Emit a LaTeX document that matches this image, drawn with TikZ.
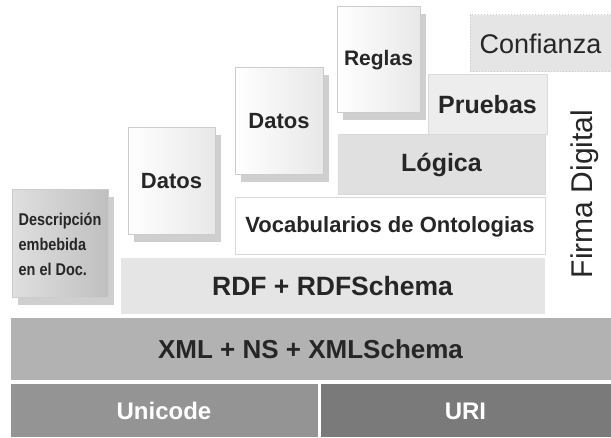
\documentclass[tikz,border=0pt]{standalone}
\usepackage{fontspec}
\setmainfont{Liberation Sans}
\newfontfamily\estrecha[FakeStretch=0.85]{Liberation Sans}
\usetikzlibrary{shadows}

\definecolor{gUnicode}{gray}{0.58}
\definecolor{gURI}{gray}{0.48}
\definecolor{gXML}{gray}{0.70}
\definecolor{gRDF}{gray}{0.90}
\definecolor{gLogica}{gray}{0.88}
\definecolor{gPruebas}{gray}{0.93}
\definecolor{gConfianza}{gray}{0.90}

\tikzset{
  capa/.style={anchor=north west, inner sep=0pt, outer sep=0pt, draw=white, line width=1pt,
    text=black!85, font=\bfseries\fontsize{22}{26}\selectfont},
  hoja/.style={capa, draw=gray!40, left color=white, right color=gray!18,
    drop shadow={shadow xshift=6pt, shadow yshift=-7pt, fill=gray!75}},
}

\begin{document}
\begin{tikzpicture}[x=1pt, y=-1pt]
\useasboundingbox (0,0) rectangle (611,438);
% capas de la pila, de abajo hacia arriba
\node [capa, fill=gUnicode, text=white, minimum width=308, minimum height=54, font=\bfseries\fontsize{24}{26}\selectfont] (unicode) at (10,384) {Unicode};
\node [capa, fill=gURI, text=white, minimum width=291, minimum height=54, font=\bfseries\fontsize{24}{26}\selectfont] (uri) at (320,384) {URI};
\node [capa, fill=gXML, minimum width=601, minimum height=63, font=\bfseries\fontsize{26}{28}\selectfont] (xml) at (10,318) {XML + NS + XMLSchema};
\node [capa, fill=gRDF, minimum width=425, minimum height=57, font=\bfseries\fontsize{26.5}{28}\selectfont] (rdf) at (120,258) {RDF + RDFSchema};
\node [capa, fill=white, draw=gray!30, minimum width=310, minimum height=57] (vocab) at (235,198) {Vocabularios de Ontologias};
\node [capa, fill=gLogica, draw=gray!30, minimum width=207, minimum height=60, font=\bfseries\fontsize{25}{28}\selectfont] (logica) at (338,135) {Lógica};
\node [capa, fill=gPruebas, draw=gray!30, minimum width=119, minimum height=60, font=\bfseries\fontsize{25}{28}\selectfont] (pruebas) at (428,75) {Pruebas};
\node [capa, fill=gConfianza, draw=gray!40, dotted, minimum width=141, minimum height=57, font=\fontsize{27}{30}\selectfont] (confianza) at (470,15) {Confianza};
\node [rotate=90, font=\fontsize{30}{32}\selectfont, text=black!85] (firma) at (585,194) {Firma Digital};
% hojas con sombra
\node [hoja, left color=gray!25, right color=gray!50, align=left, minimum width=96, minimum height=108,
  font=\estrecha\bfseries\fontsize{17}{25}\selectfont] (desc) at (12,190) {Descripción\\embebida\\en el Doc.};
\node [hoja, minimum width=87, minimum height=107] (datosA) at (128,128) {Datos};
\node [hoja, minimum width=88, minimum height=107] (datosB) at (235,68) {Datos};
\node [hoja, minimum width=83, minimum height=106, font=\bfseries\fontsize{21}{24}\selectfont] (reglas) at (337,7) {Reglas};
\end{tikzpicture}
\end{document}
